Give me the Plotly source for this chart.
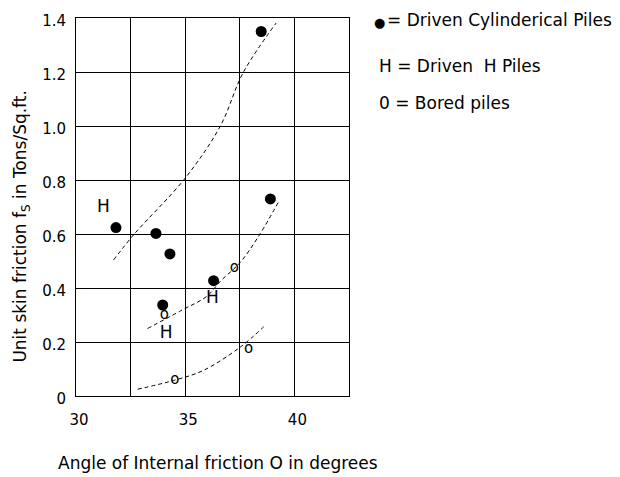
import plotly.graph_objects as go

# Driven cylindrical piles (filled circles)
cyl_phi = [31.83, 33.66, 34.30, 33.97, 36.30, 38.48, 38.90]
cyl_fs = [0.624, 0.602, 0.526, 0.337, 0.427, 1.350, 0.730]

# Driven H piles (text "H")
h_phi = [31.26, 36.25, 34.13]
h_fs = [0.699, 0.361, 0.230]

# Bored piles (text "o")
bored_phi = [37.25, 34.04, 37.90, 34.53]
bored_fs = [0.474, 0.300, 0.175, 0.059]

# Dashed trend curves
upper_phi = [31.72, 32.67, 35.0, 36.61, 37.65, 39.16]
upper_fs = [0.504, 0.600, 0.807, 1.0, 1.197, 1.381]

mid_phi = [33.28, 34.78, 36.0, 36.61, 37.52, 38.44, 39.28]
mid_fs = [0.250, 0.315, 0.370, 0.425, 0.495, 0.602, 0.720]

low_phi = [32.82, 34.53, 35.84, 37.52, 38.59]
low_fs = [0.025, 0.059, 0.095, 0.181, 0.256]

x_ticks = [30, 32.5, 35, 37.5, 40, 42.5]
x_ticktext = ["30", "", "35", "", "40", ""]
y_ticks = [0, 0.2, 0.4, 0.6, 0.8, 1.0, 1.2, 1.4]
y_ticktext = ["0", "0.2", "0.4", "0.6", "0.8", "1.0", "1.2", "1.4"]

FONT = "DejaVu Sans"

fig = go.Figure()
dash_line = dict(color="black", width=1, dash="4px,3px")
for xs, ys in [(upper_phi, upper_fs), (mid_phi, mid_fs), (low_phi, low_fs)]:
    fig.add_trace(go.Scatter(x=xs, y=ys, mode="lines", line=dict(shape="spline", **dash_line),
                             showlegend=False, hoverinfo="skip"))

fig.add_trace(go.Scatter(x=cyl_phi, y=cyl_fs, mode="markers",
                         marker=dict(color="black", size=11), showlegend=False))
fig.add_trace(go.Scatter(x=h_phi, y=h_fs, mode="text", text=["H"] * len(h_phi),
                         textfont=dict(family=FONT, size=17, color="black"), showlegend=False))
fig.add_trace(go.Scatter(x=bored_phi, y=bored_fs, mode="text", text=["o"] * len(bored_phi),
                         textfont=dict(family=FONT, size=15, color="black"), showlegend=False))

fig.update_xaxes(range=[30, 42.5], tickmode="array", tickvals=x_ticks, ticktext=x_ticktext,
                 showgrid=True, gridcolor="black", gridwidth=1, zeroline=False,
                 showline=True, mirror=True, linecolor="black", linewidth=1,
                 ticks="", tickfont=dict(family=FONT, size=15, color="black"),
                 ticklabelstandoff=10, ticklabelshift=3)
fig.update_yaxes(range=[0, 1.4], tickmode="array", tickvals=y_ticks, ticktext=y_ticktext,
                 showgrid=True, gridcolor="black", gridwidth=1, zeroline=False,
                 showline=True, mirror=True, linecolor="black", linewidth=1,
                 ticks="", tickfont=dict(family=FONT, size=15, color="black"),
                 ticklabelstandoff=6, ticklabelshift=3)

ann_font = dict(family=FONT, size=17, color="black")
fig.add_annotation(text="Angle of Internal friction O in degrees", xref="paper", yref="paper",
                   x=0.52, y=-0.178, xanchor="center", yanchor="middle", showarrow=False, font=ann_font)
fig.add_annotation(text="Unit skin friction f<sub>S</sub> in Tons/Sq.ft.", xref="paper", yref="paper",
                   x=-0.198, y=0.448, xanchor="center", yanchor="middle", textangle=-90,
                   showarrow=False, font=ann_font)
legend_rows = [("= Driven Cylinderical Piles", 1.1319, 0.995),
               ("H = Driven\u00a0 H Piles", 1.1026, 0.874),
               ("0 = Bored piles", 1.1026, 0.775)]
for txt, xx, yy in legend_rows:
    fig.add_annotation(text=txt, xref="paper", yref="paper", x=xx, y=yy,
                       xanchor="left", yanchor="middle", showarrow=False, font=ann_font)
fig.add_annotation(text="\u25cf", xref="paper", yref="paper", x=1.1099, y=0.989,
                   xanchor="center", yanchor="middle", showarrow=False,
                   font=dict(family=FONT, size=13, color="black"))

fig.update_layout(width=620, height=477, margin=dict(l=76, r=271, t=14, b=81),
                  plot_bgcolor="white", paper_bgcolor="white", showlegend=False)

fig.write_html("out.html")
